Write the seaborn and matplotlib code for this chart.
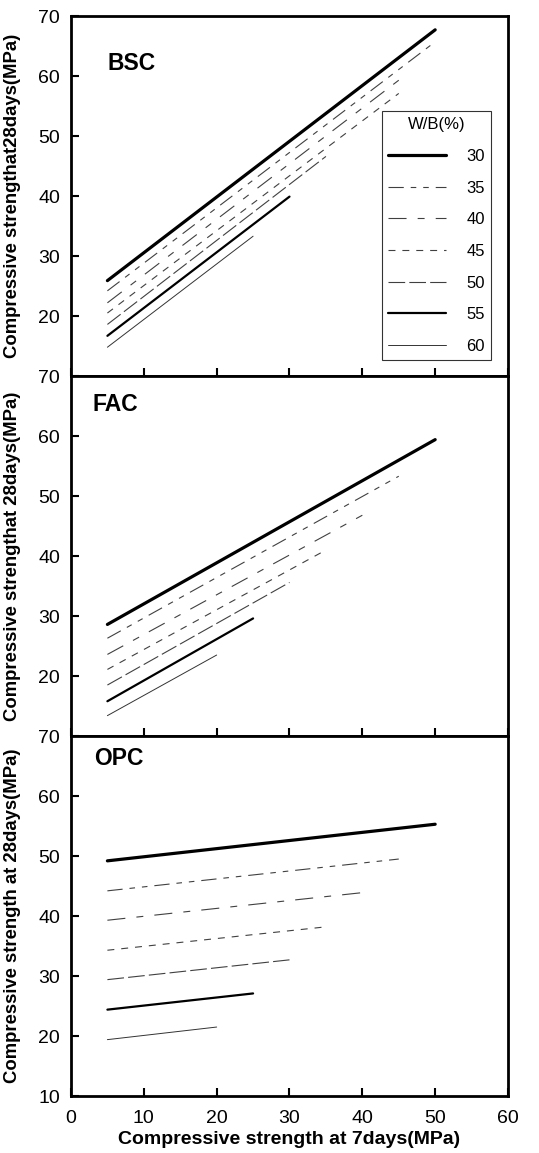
import numpy as np
import pandas as pd
import matplotlib
matplotlib.use("Agg")
import matplotlib.pyplot as plt
import seaborn as sns

# W/B ratios (%) and fitted lines (start at 7-day strength 5 MPa)
wb = ["30", "35", "40", "45", "50", "55", "60"]
x_start = [5, 5, 5, 5, 5, 5, 5]

bsc_x_end = [50, 50, 45, 45, 35, 30, 25]
bsc_y_start = [25.9, 24.2, 22.2, 20.5, 18.6, 16.7, 14.8]
bsc_y_end = [67.7, 65.7, 59.3, 57.1, 46.6, 39.9, 33.3]

fac_x_end = [50, 45, 40, 35, 30, 25, 20]
fac_y_start = [28.6, 26.3, 23.6, 21.1, 18.5, 15.8, 13.4]
fac_y_end = [59.4, 53.3, 46.8, 41.0, 35.6, 29.6, 23.5]

opc_x_end = [50, 45, 40, 35, 30, 25, 20]
opc_y_start = [49.2, 44.2, 39.3, 34.3, 29.4, 24.4, 19.4]
opc_y_end = [55.3, 49.5, 43.9, 38.2, 32.7, 27.1, 21.5]

panels = ["BSC", "FAC", "OPC"]
ylabels = ["Compressive strengthat28days(MPa)",
           "Compressive strengthat 28days(MPa)",
           "Compressive strength at 28days(MPa)"]
xlabel = "Compressive strength at 7days(MPa)"


def make_df(x_end, y_start, y_end):
    rows = []
    for w, x0, x1, y0, y1 in zip(wb, x_start, x_end, y_start, y_end):
        rows.append((w, x0, y0))
        rows.append((w, x1, y1))
    return pd.DataFrame(rows, columns=["wb", "x7", "y28"])


dfs = [make_df(bsc_x_end, bsc_y_start, bsc_y_end),
       make_df(fac_x_end, fac_y_start, fac_y_end),
       make_df(opc_x_end, opc_y_start, opc_y_end)]

sns.set_style("ticks", {"text.color": "black", "axes.labelcolor": "black",
                        "xtick.color": "black", "ytick.color": "black",
                        "axes.edgecolor": "black"})
plt.rcParams['font.family'] = ['Liberation Sans', 'DejaVu Sans']
plt.rcParams['lines.scale_dashes'] = False

palette = {"30": "black", "35": "0.25", "40": "0.25", "45": "0.25",
           "50": "0.25", "55": "black", "60": "0.2"}
dashes = {"30": "", "35": (11, 5, 4, 5, 4, 5), "40": (13, 8, 5, 8),
          "45": (5, 5), "50": (12, 3), "55": "", "60": ""}
sizes = {"30": 2.3, "35": 0.8, "40": 0.8, "45": 0.8, "50": 0.8,
         "55": 1.6, "60": 0.7}

fig, axes = plt.subplots(3, 1, figsize=(5.39, 11.53), dpi=100, sharex=True)
fig.subplots_adjust(left=0.1317, right=0.9425, top=0.9861, bottom=0.0494, hspace=0)

label_pos = [(5.0, 62.1), (3.0, 65.2), (3.2, 66.2)]

for i, ax in enumerate(axes):
    sns.lineplot(data=dfs[i], x="x7", y="y28", hue="wb", style="wb", size="wb",
                 palette=palette, dashes=dashes, sizes=sizes,
                 hue_order=wb, style_order=wb, size_order=wb,
                 legend=(i == 0), ax=ax)
    ax.set_xlim(0, 60)
    ax.set_ylim(10, 70)
    ax.set_xticks(range(0, 61, 10))
    if i < 2:
        ax.set_yticks(range(20, 71, 10))
    else:
        ax.set_yticks(range(10, 71, 10))
    ax.tick_params(direction="in", length=6, width=1.5, labelsize=14,
                   colors="black")
    ax.tick_params(axis="y", pad=8)
    ax.tick_params(axis="x", pad=10)
    for s in ax.spines.values():
        s.set_linewidth(2.0)
        s.set_color("black")
        s.set_visible(True)
    ax.set_ylabel(ylabels[i], fontsize=13.3, fontweight="bold")
    ax.yaxis.set_label_coords(-0.114, 0.5)
    ax.set_xlabel("")
    ax.text(label_pos[i][0], label_pos[i][1], panels[i], fontsize=16.5,
            fontweight="bold", ha="left", va="center")

axes[2].set_xlabel(xlabel, fontsize=14, fontweight="bold", labelpad=3)

sns.move_legend(axes[0], "lower right", bbox_to_anchor=(0.96, 0.045),
                borderaxespad=0, title="W/B(%)", fontsize=12, title_fontsize=12,
                frameon=True, fancybox=False, edgecolor="black",
                handlelength=3.5, handletextpad=1.2, labelspacing=1.0,
                borderpad=0.35)
leg = axes[0].get_legend()
leg.get_frame().set_linewidth(0.8)

fig.savefig("out.png", dpi=100)
